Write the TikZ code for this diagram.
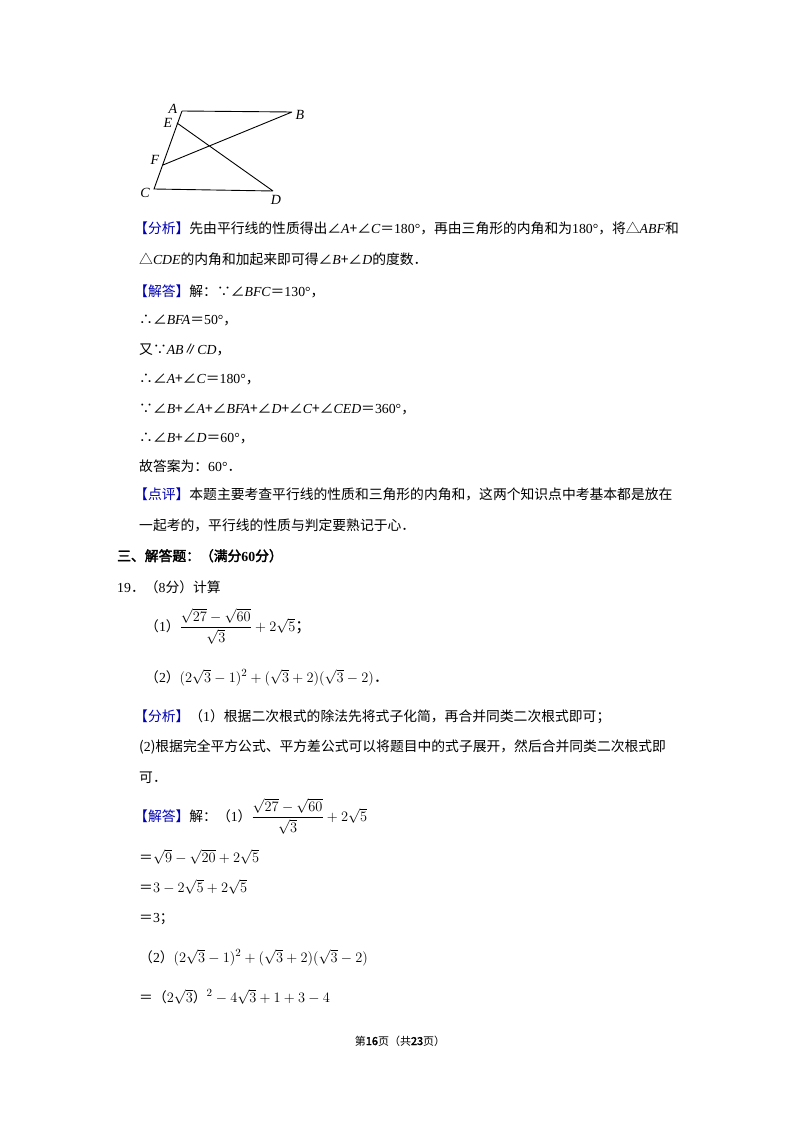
\documentclass[tikz,border=0pt]{standalone}
\usepackage{amsmath}
\usepackage{fontspec}
\setmainfont{Noto Sans CJK SC}[AutoFakeBold=2.5]
\newfontfamily\tm{Liberation Serif}
\newcommand\I[1]{{\tm\itshape #1}}
\newcommand\N[1]{{\tm #1}}
\newcommand\fx[1]{{\color{blue!70!black}【#1】}}
\begin{document}
\begin{tikzpicture}[x=1pt,y=-1pt,
  t/.style={anchor=base west,inner sep=0pt,font=\fontsize{13.8}{16}\selectfont},
  m/.style={anchor=base west,inner sep=0pt,font=\fontsize{15.5}{18}\selectfont},
  lab/.style={font=\tm\itshape\fontsize{14}{16}\selectfont,inner sep=0pt},
  seg/.style={line width=0.9pt}]
\useasboundingbox (0,0) rectangle (800,1132);
% figure
\coordinate (A) at (182,111); \coordinate (B) at (292,112);
\coordinate (E) at (177,123); \coordinate (F) at (163,165);
\coordinate (C) at (154,189); \coordinate (D) at (273,191);
\draw[seg] (A)--(B) (A)--(C)--(D) (E)--(D) (F)--(B);
\node[lab] (la) at (173,109) {A};
\node[lab] (le) at (168,123) {E};
\node[lab] (lb) at (300,115) {B};
\node[lab] (lf) at (155,160) {F};
\node[lab] (lc) at (145,193) {C};
\node[lab] (ld) at (276,200) {D};
% text
\node[t] (l1) at (134,233) {\fx{分析}先由平行线的性质得出∠\I{A}+∠\I{C}＝\N{180°}，再由三角形的内角和为\N{180°}，将△\I{ABF}和};
\node[t] (l2) at (139,264) {△\I{CDE}的内角和加起来即可得∠\I{B}+∠\I{D}的度数．};
\node[t] (l3) at (134,296) {\fx{解答}解：∵∠\I{BFC}＝\N{130°}，};
\node[t] (l4) at (139,324) {∴∠\I{BFA}＝\N{50°}，};
\node[t] (l5) at (139,354) {又∵\I{AB}∥\I{CD}，};
\node[t] (l6) at (139,383) {∴∠\I{A}+∠\I{C}＝\N{180°}，};
\node[t] (l7) at (139,413) {∵∠\I{B}+∠\I{A}+∠\I{BFA}+∠\I{D}+∠\I{C}+∠\I{CED}＝\N{360°}，};
\node[t] (l8) at (139,442) {∴∠\I{B}+∠\I{D}＝\N{60°}，};
\node[t] (l9) at (139,471) {故答案为：\N{60°}．};
\node[t] (l10) at (134,499) {\fx{点评}本题主要考查平行线的性质和三角形的内角和，这两个知识点中考基本都是放在};
\node[t] (l11) at (139,530) {一起考的，平行线的性质与判定要熟记于心．};
\node[t] (l12) at (117,561) {\textbf{三、解答题：（满分\N{\bfseries 60}分）}};
\node[t] (l13) at (117,592) {\N{19}．（\N{8}分）计算};
\node[m] (l14) at (145,631) {\fontsize{13.8}{16}\selectfont（\N{1}）\fontsize{15.5}{18}\selectfont$\dfrac{\sqrt{27}-\sqrt{60}}{\sqrt{3}}+2\sqrt{5}$；};
\node[m] (l15) at (145,682) {\fontsize{13.8}{16}\selectfont（\N{2}）\fontsize{15.5}{18}\selectfont$(2\sqrt{3}-1)^2+(\sqrt{3}+2)(\sqrt{3}-2)$．};
\node[t] (l16) at (134,721) {\fx{分析}（\N{1}）根据二次根式的除法先将式子化简，再合并同类二次根式即可；};
\node[t] (l17) at (139,751) {(\N{2})根据完全平方公式、平方差公式可以将题目中的式子展开，然后合并同类二次根式即};
\node[t] (l18) at (139,782) {可．};
\node[m] (l19) at (134,821) {\fontsize{13.8}{16}\selectfont\fx{解答}解：（\N{1}）\fontsize{15.5}{18}\selectfont$\dfrac{\sqrt{27}-\sqrt{60}}{\sqrt{3}}+2\sqrt{5}$};
\node[m] (l20) at (139,862) {\fontsize{13.8}{16}\selectfont＝\fontsize{15.5}{18}\selectfont$\sqrt{9}-\sqrt{20}+2\sqrt{5}$};
\node[m] (l21) at (139,892) {\fontsize{13.8}{16}\selectfont＝\fontsize{15.5}{18}\selectfont$3-2\sqrt{5}+2\sqrt{5}$};
\node[t] (l22) at (139,922) {＝\N{3}；};
\node[m] (l23) at (139,962) {\fontsize{13.8}{16}\selectfont（\N{2}）\fontsize{15.5}{18}\selectfont$(2\sqrt{3}-1)^2+(\sqrt{3}+2)(\sqrt{3}-2)$};
\node[m] (l24) at (139,1002) {\fontsize{13.8}{16}\selectfont＝（\fontsize{15.5}{18}\selectfont$2\sqrt{3}$\fontsize{13.8}{16}\selectfont）\fontsize{15.5}{18}\selectfont$^2-4\sqrt{3}+1+3-4$};
\node[t,anchor=base,font=\fontsize{11}{13}\selectfont] (ft) at (400,1045) {第\textbf{16}页（共\textbf{23}页）};
\end{tikzpicture}
\end{document}
